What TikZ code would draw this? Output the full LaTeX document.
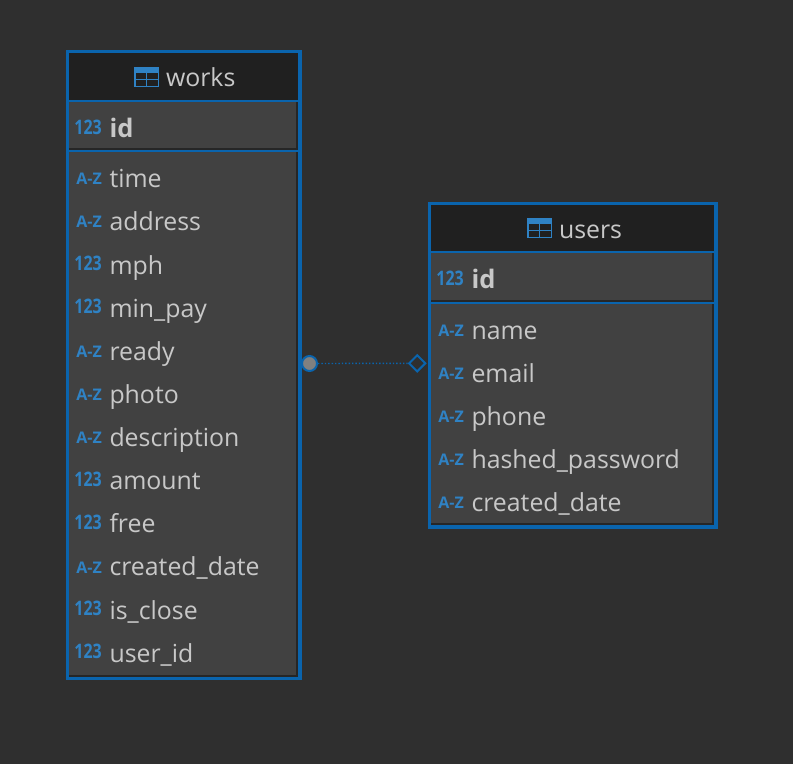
\documentclass[tikz,border=0pt]{standalone}
\usepackage{fontspec}
\setmainfont{Open Sans}
\usetikzlibrary{shapes.geometric}
\definecolor{bgc}{HTML}{2F2F2F}
\definecolor{bodyc}{HTML}{414141}
\definecolor{headc}{HTML}{202020}
\definecolor{edgec}{HTML}{0A64AD}
\definecolor{iconc}{HTML}{2F82C4}
\definecolor{textc}{HTML}{C8C8C8}
\definecolor{shadec}{HTML}{262626}
\definecolor{dotc}{HTML}{808080}
\newcommand{\nrw}[1]{\scalebox{0.8}[1]{#1}}
\tikzset{
  x=1pt,y=-1pt,
  frame/.style={draw=edgec,line width=3.6pt},
  rule/.style={draw=edgec,line width=2.2pt},
  shade/.style={draw=shadec,line width=2pt},
  col/.style={anchor=base west,inner sep=0pt,outer sep=0pt,text=textc,font=\fontsize{24.85}{28}\selectfont},
  pk/.style={col,font=\fontsize{25.5}{28}\selectfont\bfseries},
  ttl/.style={col},
  num/.style={anchor=base east,inner sep=0pt,text=iconc,font=\fontsize{20}{22}\selectfont\bfseries},
  alpha/.style={anchor=base east,inner sep=0pt,text=iconc,font=\fontsize{16}{18}\selectfont\bfseries},
  tick/.style={draw=iconc,line width=1.5pt},
}
\newcommand{\tblicon}[2]{%
  \fill[iconc] (#1,#2) rectangle +(25,6);
  \draw[tick] (#1+.75,#2+3) rectangle (#1+24.25,#2+19.25);
  \draw[tick] (#1+.75,#2+12.5) -- (#1+24.25,#2+12.5) (#1+12.5,#2+5) -- (#1+12.5,#2+19);
}
\newcommand{\tbox}[6]{% x0 y0 x1 y1 head-rule id-rule
  \fill[bodyc] (#1,#2) rectangle (#3,#4);
  \fill[headc] (#1,#2) rectangle (#3,#5);
  \draw[shade] (#3-2.8,#5) -- (#3-2.8,#4-2.8) -- (#1+1.5,#4-2.8);
  \draw[shade] (#1+1.5,#6-1.7) -- (#3-1.5,#6-1.7);
  \draw[rule] (#1,#5) -- (#3-1.5,#5);
  \draw[rule] (#1,#6) -- (#3-1.5,#6);
  \draw[frame] (#1,#2) rectangle (#3,#4);
}
\begin{document}
\begin{tikzpicture}
\useasboundingbox (0,0) rectangle (793,764);
\fill[bgc] (0,0) rectangle (793,764);

% works
\tbox{67.5}{51.5}{300}{678.3}{101}{151}
\tblicon{134}{67}
\node[ttl] (worksT) at (166,86.5) {works};
\node[num] (w0i) at (102,134.5) {\nrw{123}};
\node[pk] (w0) at (109.5,137) {id};
\node[alpha] (w1i) at (102,184) {A-Z};
\node[col] (w1) at (109.5,187) {time};
\node[alpha] (w2i) at (102,227) {A-Z};
\node[col] (w2) at (109.5,230.5) {address};
\node[num] (w3i) at (102,270.5) {\nrw{123}};
\node[col] (w3) at (109.5,274) {mph};
\node[num] (w4i) at (102,313.5) {\nrw{123}};
\node[col] (w4) at (109.5,317) {min\_pay};
\node[alpha] (w5i) at (102,357) {A-Z};
\node[col] (w5) at (109.5,360) {ready};
\node[alpha] (w6i) at (102,400) {A-Z};
\node[col] (w6) at (109.5,403) {photo};
\node[alpha] (w7i) at (102,443) {A-Z};
\node[col] (w7) at (109.5,446.5) {description};
\node[num] (w8i) at (102,486) {\nrw{123}};
\node[col] (w8) at (109.5,489.5) {amount};
\node[num] (w9i) at (102,529) {\nrw{123}};
\node[col] (w9) at (109.5,532.5) {free};
\node[alpha] (w10i) at (102,573) {A-Z};
\node[col] (w10) at (109.5,575.5) {created\_date};
\node[num] (w11i) at (102,615.5) {\nrw{123}};
\node[col] (w11) at (109.5,619) {is\_close};
\node[num] (w12i) at (102,658.5) {\nrw{123}};
\node[col] (w12) at (109.5,662) {user\_id};

% users
\tbox{429.5}{203.5}{716}{527}{252}{303}
\tblicon{527}{218}
\node[ttl] (usersT) at (559,238) {users};
\node[num] (u0i) at (464,285.5) {\nrw{123}};
\node[pk] (u0) at (471.5,288) {id};
\node[alpha] (u1i) at (464,336) {A-Z};
\node[col] (u1) at (471.5,339) {name};
\node[alpha] (u2i) at (464,379) {A-Z};
\node[col] (u2) at (471.5,382) {email};
\node[alpha] (u3i) at (464,422) {A-Z};
\node[col] (u3) at (471.5,425) {phone};
\node[alpha] (u4i) at (464,465) {A-Z};
\node[col] (u4) at (471.5,468) {hashed\_password};
\node[alpha] (u5i) at (464,508) {A-Z};
\node[col] (u5) at (471.5,511) {created\_date};

% relation
\node[circle,draw=edgec,fill=dotc,line width=2pt,minimum size=15pt,inner sep=0pt] (fk) at (309.5,363.5) {};
\node[diamond,draw=edgec,line width=2pt,minimum size=17pt,inner sep=0pt,aspect=1] (pk) at (417.2,363.3) {};
\draw[draw=edgec,line width=1.4pt,dash pattern=on 1.4pt off 2pt] (fk) -- (pk);
\end{tikzpicture}
\end{document}
